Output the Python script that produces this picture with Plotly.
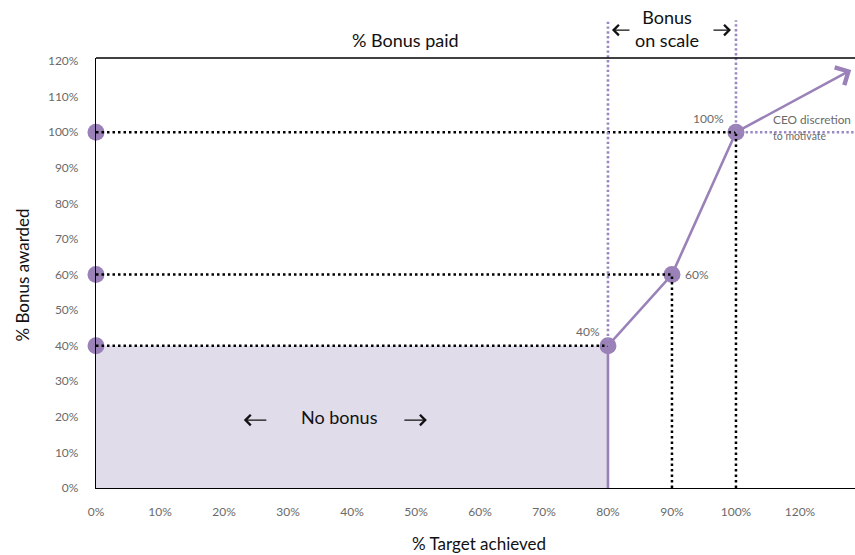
import plotly.graph_objects as go

# Bonus scheme: % of target achieved vs % of bonus awarded
x_ticks = [0, 10, 20, 30, 40, 50, 60, 70, 80, 90, 100, 110]
x_ticktext = ["0%", "10%", "20%", "30%", "40%", "50%", "60%", "70%", "80%", "90%", "100%", "120%"]
y_ticks = [0, 10, 20, 30, 40, 50, 60, 70, 80, 90, 100, 110, 120]
y_ticktext = [f"{v}%" for v in y_ticks]

target = [80, 90, 100]          # % target achieved at each step
bonus = [40, 60, 100]           # % bonus awarded at each step
step_labels = ["40%", "60%", "100%"]
discretion_end = [118, 117.5]   # end of the CEO-discretion arrow (target, bonus)

X_MAX = 118.6
Y_MAX = 120.85

PURPLE = "#9a82b8"
PURPLE_DOT = "#9a88c2"
FILL = "#e0dcea"
GREY = "#6a6a6a"
INK = "#111111"
FONT = "Lato"

fig = go.Figure()

# "No bonus" area below the first threshold
fig.add_shape(type="rect", x0=0, x1=target[0], y0=0, y1=bonus[0],
              fillcolor=FILL, line_width=0, layer="below")

# Black dotted guides from each step to the axes
for tx, by in zip(target, bonus):
    fig.add_shape(type="line", x0=0, x1=tx, y0=by, y1=by,
                  line=dict(color="black", width=2.5, dash="2.5px,3px"))
for tx, by in zip(target[1:], bonus[1:]):
    fig.add_shape(type="line", x0=tx, x1=tx, y0=0, y1=by,
                  line=dict(color="black", width=2.5, dash="2.5px,3px"))

# Purple dotted bounds of the "bonus on scale" band, running above the frame
for tx, by in zip([target[0], target[2]], [bonus[0], bonus[2]]):
    fig.add_shape(type="line", x0=tx, x1=tx, y0=by / Y_MAX, y1=1.088,
                  xref="x", yref="paper",
                  line=dict(color=PURPLE_DOT, width=2.6, dash="2.4px,2.4px"))
# Purple dotted continuation at the 100% bonus level
fig.add_shape(type="line", x0=target[2], x1=X_MAX, y0=bonus[2], y1=bonus[2],
              line=dict(color=PURPLE_DOT, width=2.6, dash="2.4px,2.4px"))

# Frame top line
fig.add_shape(type="line", x0=0, x1=1, y0=1, y1=1, xref="paper", yref="paper",
              line=dict(color="black", width=1.3))

# Bonus curve
fig.add_trace(go.Scatter(
    x=[target[0]] + target, y=[0] + bonus, mode="lines",
    line=dict(color=PURPLE, width=2.6), hoverinfo="skip", showlegend=False))

# Step markers on the curve and on the y axis
fig.add_trace(go.Scatter(
    x=target + [0, 0, 0], y=bonus + bonus, mode="markers",
    marker=dict(color=PURPLE, size=17, line=dict(width=0)),
    cliponaxis=False, hoverinfo="skip", showlegend=False))

# Discretion arrow beyond 100%
fig.add_annotation(x=discretion_end[0], y=discretion_end[1], ax=target[2], ay=bonus[2],
                   xref="x", yref="y", axref="x", ayref="y", text="",
                   showarrow=True, arrowhead=4, arrowsize=1.5, arrowwidth=2.6,
                   arrowcolor=PURPLE, standoff=0)

# Step value labels
fig.add_annotation(x=target[0], y=bonus[0], text=step_labels[0], showarrow=False,
                   xanchor="right", yanchor="bottom", xshift=-6, yshift=5,
                   font=dict(family=FONT, size=12, color=GREY))
fig.add_annotation(x=target[1], y=bonus[1], text=step_labels[1], showarrow=False,
                   xanchor="left", yanchor="middle", xshift=11,
                   font=dict(family=FONT, size=12, color=GREY))
fig.add_annotation(x=target[2], y=bonus[2], text=step_labels[2], showarrow=False,
                   xanchor="right", yanchor="bottom", xshift=-10, yshift=4,
                   font=dict(family=FONT, size=12, color=GREY))

# CEO discretion note
fig.add_annotation(x=0.889, y=0.857, xref="paper", yref="paper", text="CEO discretion",
                   showarrow=False, xanchor="left", yanchor="middle",
                   font=dict(family=FONT, size=11.8, color=GREY))
fig.add_annotation(x=0.889, y=0.819, xref="paper", yref="paper", text="to motivate",
                   showarrow=False, xanchor="left", yanchor="middle",
                   font=dict(family=FONT, size=10.5, color=GREY))

fig.add_annotation(x=0.5, y=1, xref="paper", yref="paper", text="% Bonus paid",
                   showarrow=False, yanchor="bottom", yshift=5, xshift=-70,
                   font=dict(family=FONT, size=18, color=INK))

# Band heading with thin arrows pointing at its two bounds
fig.add_annotation(x=90, y=1.068, xref="x", yref="paper", text="Bonus<br>on scale",
                   showarrow=False, xanchor="center", yanchor="middle", xshift=-5,
                   font=dict(family=FONT, size=18, color=INK))
ARROW = dict(showarrow=True, text="", arrowhead=4, arrowsize=1.7, arrowwidth=1.2,
             arrowcolor=INK, standoff=0, ay=0)
fig.add_annotation(x=target[0], y=1.065, xref="x", yref="paper", xshift=4, ax=19, **ARROW)
fig.add_annotation(x=target[2], y=1.065, xref="x", yref="paper", xshift=-5, ax=-19, **ARROW)

# "No bonus" heading inside the shaded area
fig.add_annotation(x=38.0, y=20, text="No bonus", showarrow=False,
                   font=dict(family=FONT, size=18, color=INK))
fig.add_annotation(x=23.1, y=19.1, ax=24, **ARROW)
fig.add_annotation(x=51.7, y=19.1, ax=-24, **ARROW)

# Axis titles
fig.add_annotation(x=-0.097, y=0.495, xref="paper", yref="paper", text="% Bonus awarded",
                   textangle=-90, showarrow=False, xanchor="center", yanchor="middle",
                   font=dict(family=FONT, size=17, color=INK))
fig.add_annotation(x=0.504, y=-0.128, xref="paper", yref="paper", text="% Target achieved",
                   showarrow=False, xanchor="center", yanchor="middle",
                   font=dict(family=FONT, size=17, color=INK))

fig.update_layout(
    width=855, height=555,
    margin=dict(l=96, r=0, t=58, b=67),
    plot_bgcolor="white", paper_bgcolor="white",
    font=dict(family=FONT, size=12, color=GREY),
    showlegend=False,
    xaxis=dict(range=[0, X_MAX], tickvals=x_ticks, ticktext=x_ticktext,
               showgrid=False, zeroline=False, showline=True, linecolor="black",
               linewidth=1.3, ticks="", ticklabelstandoff=12,
               tickfont=dict(family=FONT, size=12, color=GREY)),
    yaxis=dict(range=[0, Y_MAX], tickvals=y_ticks, ticktext=y_ticktext,
               showgrid=False, zeroline=False, showline=True, linecolor="black",
               linewidth=1.3, ticks="", ticklabelstandoff=14,
               tickfont=dict(family=FONT, size=12, color=GREY)),
)

fig.write_html("out.html")
